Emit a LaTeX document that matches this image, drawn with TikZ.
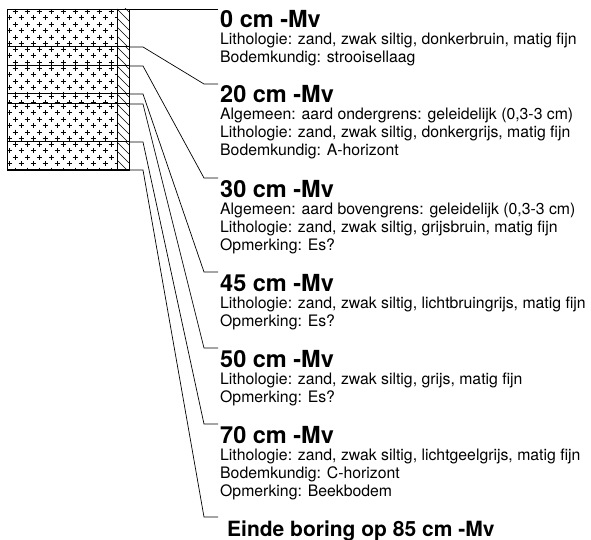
\documentclass[tikz,border=0pt]{standalone}
\usepackage{fontspec}
\setmainfont{TeX Gyre Heros}
\usetikzlibrary{calc}

\begin{document}
\begin{tikzpicture}[x=1pt,y=-1pt,
  head/.style={anchor=base west,inner sep=0,font=\bfseries\fontsize{23.5}{26}\selectfont},
  body/.style={anchor=base west,inner sep=0,font=\fontsize{15.8}{18}\selectfont},
  link/.style={line width=0.7pt},
  cross/.style={line width=0.9pt}]
  \useasboundingbox (0,0) rectangle (591,540);

  % layers of the column: top/bottom in px below the surface line
  \foreach \top/\bot in {9/47,47/66,66/94,94/104,104/142,142/170} {
    \begin{scope}
      \clip (7,\top) rectangle (117,\bot);
      \foreach \r in {0,...,6} \foreach \c in {0,...,9} {
        \pgfmathsetmacro\px{15+12*\c-6*mod(\r,2)}
        \pgfmathsetmacro\py{\top+2.5+6.4*\r}
        \draw[cross] (\px-2.5,\py) -- (\px+2.5,\py) (\px,\py-2.5) -- (\px,\py+2.5);
      }
    \end{scope}
    \begin{scope}
      \clip (117,\top) rectangle (129,\bot);
      \foreach \k in {-2,...,4}
        \draw[link] (117,\top+\k*9) -- ++(12,12);
    \end{scope}
  }
  \draw[link] (7,9) rectangle (129,170);
  \draw[link] (117,9) -- (117,170);

  % depth marks on the column and ticks at the descriptions
  \coordinate (b0) at (129,9);
  \coordinate (t0) at (218,9);
  \foreach \n/\d/\t in {20/47/84,30/66/178,45/94/272,50/104/348,70/142/424,85/170/517} {
    \coordinate (b\n) at (129,\d);
    \coordinate (t\n) at (218,\t);
    \draw[line width=1pt] (7,\d) -- (b\n);
  }

  \draw[link] (b0) -- (t0);
  \foreach \n in {20,30,45,50,70,85}
    \draw[link] (b\n) -- ++(14,0) -- ($(t\n)+(-14,0)$) -- (t\n);

  % descriptions
  \node[head] (h0) at ($(t0)+(2,19)$) {0 cm -Mv};
  \foreach \txt [count=\i] in {{Lithologie: zand, zwak siltig, donkerbruin, matig fijn},
      {Bodemkundig: strooisellaag}}
    \node[body] (d0-\i) at ($(t0)+(2,18+18*\i)$) {\txt};

  \node[head] (h20) at ($(t20)+(2,19)$) {20 cm -Mv};
  \foreach \txt [count=\i] in {{Algemeen: aard ondergrens: geleidelijk (0,3-3 cm)},
      {Lithologie: zand, zwak siltig, donkergrijs, matig fijn},
      {Bodemkundig: A-horizont}}
    \node[body] (d20-\i) at ($(t20)+(2,18+18*\i)$) {\txt};

  \node[head] (h30) at ($(t30)+(2,19)$) {30 cm -Mv};
  \foreach \txt [count=\i] in {{Algemeen: aard bovengrens: geleidelijk (0,3-3 cm)},
      {Lithologie: zand, zwak siltig, grijsbruin, matig fijn},
      {Opmerking: Es?}}
    \node[body] (d30-\i) at ($(t30)+(2,18+18*\i)$) {\txt};

  \node[head] (h45) at ($(t45)+(2,19)$) {45 cm -Mv};
  \foreach \txt [count=\i] in {{Lithologie: zand, zwak siltig, lichtbruingrijs, matig fijn},
      {Opmerking: Es?}}
    \node[body] (d45-\i) at ($(t45)+(2,18+18*\i)$) {\txt};

  \node[head] (h50) at ($(t50)+(2,19)$) {50 cm -Mv};
  \foreach \txt [count=\i] in {{Lithologie: zand, zwak siltig, grijs, matig fijn},
      {Opmerking: Es?}}
    \node[body] (d50-\i) at ($(t50)+(2,18+18*\i)$) {\txt};

  \node[head] (h70) at ($(t70)+(2,19)$) {70 cm -Mv};
  \foreach \txt [count=\i] in {{Lithologie: zand, zwak siltig, lichtgeelgrijs, matig fijn},
      {Bodemkundig: C-horizont},
      {Opmerking: Beekbodem}}
    \node[body] (d70-\i) at ($(t70)+(2,18+18*\i)$) {\txt};

  \node[head,font=\bfseries\fontsize{21}{24}\selectfont] (h85) at ($(t85)+(9,19)$) {Einde boring op 85 cm -Mv};
\end{tikzpicture}
\end{document}
